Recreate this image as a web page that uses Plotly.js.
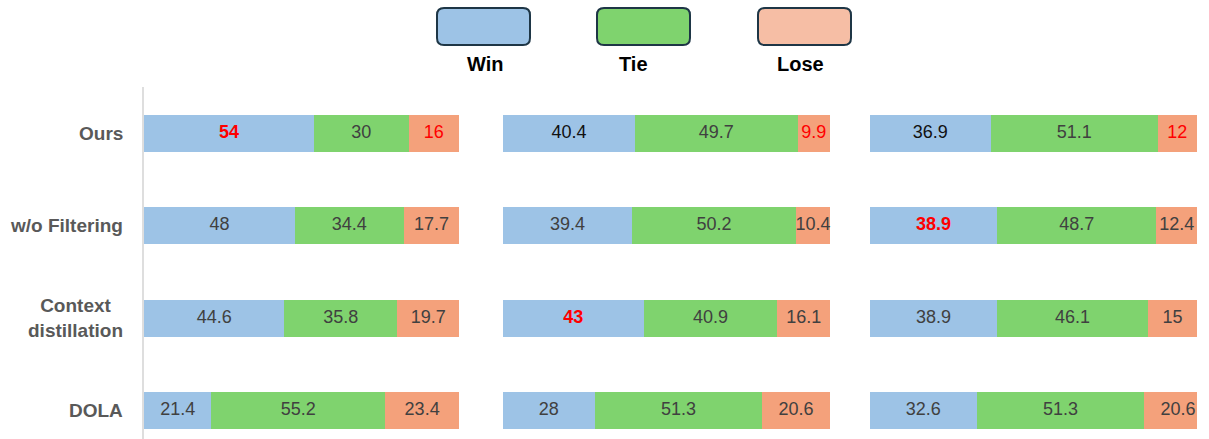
<!DOCTYPE html>
<html>
<head>
<meta charset="utf-8">
<script src="https://cdn.plot.ly/plotly-3.0.1.min.js"></script>
<style>html,body{margin:0;padding:0;background:#fff;}#chart{width:1209px;height:439px;}</style>
</head>
<body>
<div id="chart"></div>
<script>
// ---- data ----
const categories = ["Ours", "w/o Filtering", "Context<br>distillation", "DOLA"];
const seriesNames = ["Win", "Tie", "Lose"];

const win1 = [54, 48, 44.6, 21.4];
const tie1 = [30, 34.4, 35.8, 55.2];
const lose1 = [16, 17.7, 19.7, 23.4];

const win2 = [40.4, 39.4, 43, 28];
const tie2 = [49.7, 50.2, 40.9, 51.3];
const lose2 = [9.9, 10.4, 16.1, 20.6];

const win3 = [36.9, 38.9, 38.9, 32.6];
const tie3 = [51.1, 48.7, 46.1, 51.3];
const lose3 = [12, 12.4, 15, 20.6];

// index of highlighted (red) values per panel
const bestWinIdx = [0, 2, 1];
const bestLoseIdx = [0, 0, 0];

// ---- style ----
const W = 1209, H = 439;
const colors = {Win: "#9dc3e6", Tie: "#7fd36e", Lose: "#f4a17b"};
const legendFill = {Win: "#9dc3e6", Tie: "#7fd36e", Lose: "#f6bea5"};
const textGray = "#404040";
const red = "#ff0000";
const FONT = "Liberation Sans, Arial, sans-serif";

const panels = [
  {Win: win1, Tie: tie1, Lose: lose1, dom: [144, 459]},
  {Win: win2, Tie: tie2, Lose: lose2, dom: [503, 830]},
  {Win: win3, Tie: tie3, Lose: lose3, dom: [870, 1197]}
];

const px = x => x / W;
const py = y => 1 - y / H;

const traces = [];
panels.forEach((p, pi) => {
  const xa = pi === 0 ? "x" : "x" + (pi + 1);
  const ya = pi === 0 ? "y" : "y" + (pi + 1);
  // bars
  seriesNames.forEach(s => {
    traces.push({
      type: "bar",
      orientation: "h",
      name: s,
      x: p[s],
      y: categories,
      xaxis: xa,
      yaxis: ya,
      width: 0.4,
      marker: {color: colors[s], line: {width: 0}},
      hoverinfo: "skip",
      showlegend: false
    });
  });
  // value labels, placed at each segment's midpoint on the same axes
  let cum = categories.map(() => 0);
  seriesNames.forEach(s => {
    const vals = p[s];
    const mids = vals.map((v, i) => cum[i] + v / 2);
    cum = cum.map((c, i) => c + vals[i]);
    const texts = vals.map((v, i) => (s === "Win" && i === bestWinIdx[pi]) ? "<b>" + v + "</b>" : String(v));
    const tcolors = vals.map((v, i) => {
      if (s === "Win" && i === bestWinIdx[pi]) return red;
      if (s === "Lose" && i === bestLoseIdx[pi]) return red;
      if (s === "Win" && i === 0 && pi > 0) return "#111111";
      return textGray;
    });
    traces.push({
      type: "scatter",
      mode: "text",
      x: mids,
      y: categories,
      xaxis: xa,
      yaxis: ya,
      text: texts,
      textposition: "middle center",
      textfont: {family: FONT, size: 18, color: tcolors},
      cliponaxis: false,
      hoverinfo: "skip",
      showlegend: false
    });
  });
});

const yTopPx = 87;
const ySpacing = 92.5;
const plotH = H - yTopPx;
const firstCenterPx = 133;
const rTop = -(firstCenterPx - yTopPx) / ySpacing;
const rBot = rTop + plotH / ySpacing;

const layout = {
  width: W, height: H,
  margin: {l: 0, r: 0, t: 0, b: 0},
  paper_bgcolor: "#ffffff",
  plot_bgcolor: "rgba(0,0,0,0)",
  barmode: "stack",
  showlegend: false,
  font: {family: FONT},
  annotations: [],
  shapes: []
};

panels.forEach((p, pi) => {
  const sx = pi === 0 ? "" : String(pi + 1);
  layout["xaxis" + sx] = {
    domain: [px(p.dom[0]), px(p.dom[1])],
    range: [0, 100],
    showgrid: false, zeroline: false, showline: false,
    showticklabels: false, ticks: "",
    anchor: "y" + sx,
    fixedrange: true
  };
  layout["yaxis" + sx] = {
    domain: [0, py(yTopPx)],
    type: "category",
    range: [rBot, rTop],
    showgrid: false, zeroline: false,
    showline: pi === 0,
    linecolor: "#dedede",
    linewidth: 2,
    showticklabels: false, ticks: "",
    anchor: "x" + sx,
    fixedrange: true
  };
});

// category labels
categories.forEach((c, i) => {
  layout.annotations.push({
    xref: "paper", yref: "y",
    x: px(125), y: i,
    xanchor: "right", yanchor: "middle",
    align: "center",
    text: c,
    showarrow: false,
    font: {family: FONT, size: 19, weight: "bold", color: "#595959"}
  });
});

// legend: rounded boxes + labels
function roundRect(x0, y0, x1, y1, r) {
  const P = (x, y) => px(x) + "," + py(y);
  return "M" + P(x0 + r, y0) +
    " L" + P(x1 - r, y0) + " Q" + P(x1, y0) + " " + P(x1, y0 + r) +
    " L" + P(x1, y1 - r) + " Q" + P(x1, y1) + " " + P(x1 - r, y1) +
    " L" + P(x0 + r, y1) + " Q" + P(x0, y1) + " " + P(x0, y1 - r) +
    " L" + P(x0, y0 + r) + " Q" + P(x0, y0) + " " + P(x0 + r, y0) + " Z";
}
const legendBoxes = [
  {name: "Win", x0: 437, x1: 530, lx: 485},
  {name: "Tie", x0: 597, x1: 690, lx: 634},
  {name: "Lose", x0: 758, x1: 851, lx: 800}
];
legendBoxes.forEach(b => {
  layout.shapes.push({
    type: "path", xref: "paper", yref: "paper",
    path: roundRect(b.x0, 8, b.x1, 45, 7),
    fillcolor: legendFill[b.name],
    line: {color: "#1e3646", width: 2}
  });
  layout.annotations.push({
    xref: "paper", yref: "paper",
    x: px(b.lx), y: py(64),
    xanchor: "center", yanchor: "middle",
    text: b.name, showarrow: false,
    font: {family: FONT, size: 20, weight: "bold", color: "#000000"}
  });
});

Plotly.newPlot("chart", traces, layout, {displayModeBar: false, staticPlot: true});
</script>
</body>
</html>
